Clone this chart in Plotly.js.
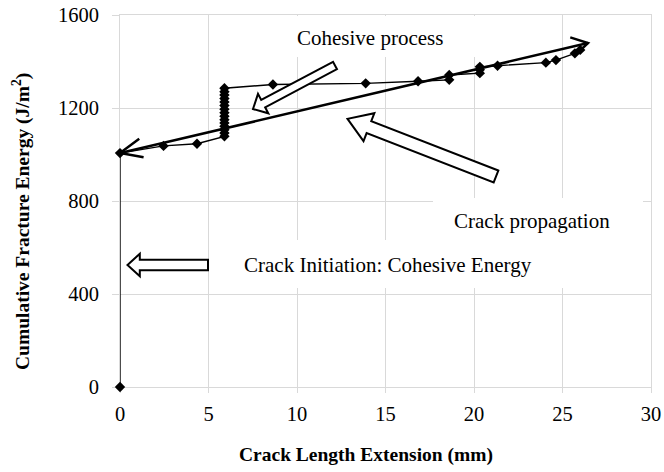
<!DOCTYPE html>
<html>
<head>
<meta charset="utf-8">
<script src="https://cdn.plot.ly/plotly-3.0.1.min.js"></script>
<style>html,body{margin:0;padding:0;background:#fff;}#chart{width:664px;height:472px;}</style>
</head>
<body>
<div id="chart"></div>
<script>
// ---- data ----
const crackExtension = [0, 0, 2.46, 4.35,
  5.9, 5.9, 5.9, 5.9, 5.9, 5.9, 5.9, 5.9, 5.9, 5.9, 5.9, 5.9, 5.9, 5.9, 5.9,
  8.64, 13.88, 16.84, 18.6, 18.6, 20.33, 20.33, 20.33, 21.33, 24.06, 24.63, 25.7, 26.0];
const fractureEnergy = [0, 1006, 1037, 1046,
  1078, 1092, 1106, 1121, 1136, 1150, 1165, 1180, 1195, 1211, 1226, 1241, 1256, 1270, 1285,
  1301, 1306, 1315, 1321, 1342, 1350, 1365, 1377, 1382, 1395, 1406, 1435, 1450];
const xTicks = [0, 5, 10, 15, 20, 25, 30];
const yTicks = [0, 400, 800, 1200, 1600];
const xTitle = 'Crack Length Extension (mm)';
const yTitle = 'Cumulative Fracture Energy (J/m<sup>2</sup>)';
const labelCohesive = 'Cohesive process';
const labelPropagation = 'Crack propagation';
const labelInitiation = 'Crack Initiation: Cohesive Energy';

// ---- layout geometry ----
const W = 664, H = 472, M = {l: 120, r: 13, t: 15, b: 85};
const PW = W - M.l - M.r, PH = H - M.t - M.b;
const XR = [0, 30], YR = [0, 1600];
const x2px = v => M.l + (v - XR[0]) / (XR[1] - XR[0]) * PW;
const y2px = v => M.t + PH - (v - YR[0]) / (YR[1] - YR[0]) * PH;
const px2x = p => XR[0] + (p - M.l) / PW * (XR[1] - XR[0]);
const px2y = p => YR[0] + (M.t + PH - p) / PH * (YR[1] - YR[0]);
const FONT = "'Liberation Serif', 'Times New Roman', serif";

function ptsToPath(pts, close) {
  return pts.map((p, i) => (i ? 'L' : 'M') + px2x(p[0]).toFixed(4) + ',' + px2y(p[1]).toFixed(3)).join('') + (close ? 'Z' : '');
}
function blockArrow(tailPx, tipPx, bw, hw, hl) {
  const T = tailPx, P = tipPx;
  const dx = P[0] - T[0], dy = P[1] - T[1], L = Math.hypot(dx, dy);
  const u = [dx / L, dy / L], n = [-u[1], u[0]];
  const B = [P[0] - u[0] * hl, P[1] - u[1] * hl];
  const pts = [
    [T[0] + n[0] * bw, T[1] + n[1] * bw],
    [B[0] + n[0] * bw, B[1] + n[1] * bw],
    [B[0] + n[0] * hw, B[1] + n[1] * hw],
    P,
    [B[0] - n[0] * hw, B[1] - n[1] * hw],
    [B[0] - n[0] * bw, B[1] - n[1] * bw],
    [T[0] - n[0] * bw, T[1] - n[1] * bw]
  ];
  return {type: 'path', xref: 'x', yref: 'y', path: ptsToPath(pts, true),
    fillcolor: 'white', line: {color: 'black', width: 2}, layer: 'above'};
}
function chevron(tipPx, fromPx, back, spread) {
  const dx = tipPx[0] - fromPx[0], dy = tipPx[1] - fromPx[1], L = Math.hypot(dx, dy);
  const u = [dx / L, dy / L], n = [-u[1], u[0]];
  const B = [tipPx[0] - u[0] * back, tipPx[1] - u[1] * back];
  const pts = [[B[0] + n[0] * spread, B[1] + n[1] * spread], tipPx, [B[0] - n[0] * spread, B[1] - n[1] * spread]];
  return {type: 'path', xref: 'x', yref: 'y', path: ptsToPath(pts, false),
    line: {color: 'black', width: 2.5}, layer: 'above'};
}
function whiteBox(x0, y0, x1, y1) {
  return {type: 'rect', xref: 'x', yref: 'y', x0: px2x(x0), x1: px2x(x1), y0: px2y(y1), y1: px2y(y0),
    fillcolor: 'white', line: {width: 0}, layer: 'between'};
}

// trend arrow end points (pixels)
const trendA = [x2px(0), y2px(1006)];
const trendB = [588, 43];

const shapes = [
  whiteBox(262, 16, 478, 57),
  whiteBox(433, 198, 643, 240),
  whiteBox(214, 240, 566, 288),
  {type: 'line', xref: 'x', yref: 'y', x0: px2x(trendA[0]), y0: px2y(trendA[1]), x1: px2x(trendB[0]), y1: px2y(trendB[1]),
    line: {color: 'black', width: 2.5}, layer: 'above'},
  chevron(trendA, trendB, 22, 9.5),
  chevron(trendB, trendA, 16, 9.5),
  blockArrow([335, 65.5], [253, 109], 4.2, 11, 11.5),
  blockArrow([496, 176.5], [347.5, 118.8], 6.4, 15, 23),
  blockArrow([208, 265], [127.5, 265], 5.2, 11.3, 12.3)
];

const annFont = {family: FONT, size: 21, color: '#000'};
const annotations = [
  {xref: 'x', yref: 'y', x: px2x(370), y: px2y(37.5), xanchor: 'center', yanchor: 'middle', text: labelCohesive, showarrow: false, font: annFont},
  {xref: 'x', yref: 'y', x: px2x(532), y: px2y(220.5), xanchor: 'center', yanchor: 'middle', text: labelPropagation, showarrow: false, font: annFont},
  {xref: 'x', yref: 'y', x: px2x(387.5), y: px2y(264.5), xanchor: 'center', yanchor: 'middle', text: labelInitiation, showarrow: false, font: annFont},
  {xref: 'paper', yref: 'paper', x: (366 - M.l) / PW, y: (M.t + PH - 455) / PH, xanchor: 'center', yanchor: 'middle',
    text: '<b>' + xTitle + '</b>', showarrow: false, font: {family: FONT, size: 19.5, color: '#000'}},
  {xref: 'paper', yref: 'paper', x: (22 - M.l) / PW, y: (M.t + PH - 222) / PH, xanchor: 'center', yanchor: 'middle',
    text: '<b>' + yTitle + '</b>', textangle: -90, showarrow: false, font: {family: FONT, size: 19.5, color: '#000'}}
];

const trace = {
  x: crackExtension, y: fractureEnergy, type: 'scatter', mode: 'lines+markers',
  line: {color: 'black', width: 1.4},
  marker: {symbol: 'diamond', size: 8, color: 'black'},
  cliponaxis: false, showlegend: false, hoverinfo: 'skip'
};

const grid = '#d9d9d9';
const layout = {
  width: W, height: H, margin: M, paper_bgcolor: '#fff', plot_bgcolor: '#fff',
  font: {family: FONT, size: 20.5, color: '#000'},
  xaxis: {range: XR, tickmode: 'array', tickvals: xTicks, ticktext: xTicks.map(String),
    showgrid: true, gridcolor: grid, gridwidth: 1, zeroline: false,
    showline: true, linecolor: grid, linewidth: 1, mirror: true, layer: 'below traces',
    ticks: 'outside', ticklen: 5, tickcolor: grid, tickwidth: 1, ticklabelstandoff: 3,
    tickfont: {family: FONT, size: 20.5, color: '#000'}, fixedrange: true},
  yaxis: {range: YR, tickmode: 'array', tickvals: yTicks, ticktext: yTicks.map(String),
    showgrid: true, gridcolor: grid, gridwidth: 1, zeroline: false,
    showline: true, linecolor: grid, linewidth: 1, mirror: true, layer: 'below traces',
    ticks: 'outside', ticklen: 7, tickcolor: grid, tickwidth: 1, ticklabelstandoff: 9,
    tickfont: {family: FONT, size: 20.5, color: '#000'}, fixedrange: true},
  shapes: shapes, annotations: annotations, showlegend: false
};

Plotly.newPlot('chart', [trace], layout, {staticPlot: true, displayModeBar: false});
</script>
</body>
</html>
